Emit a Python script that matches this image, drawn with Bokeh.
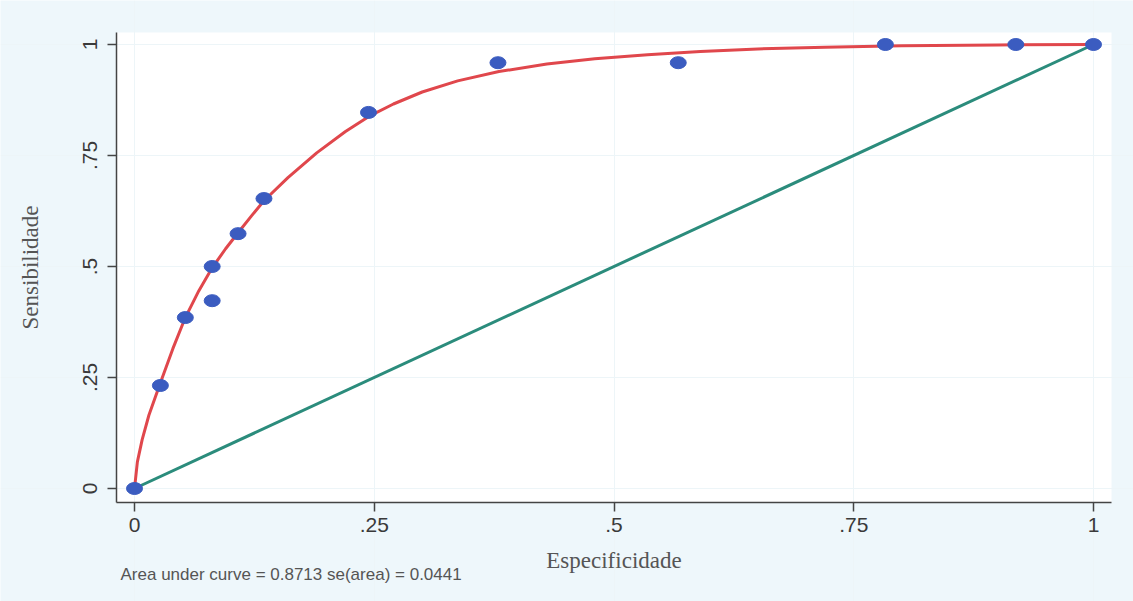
from bokeh.plotting import figure
from bokeh.models import Range1d, FixedTicker, Label, BoxAnnotation
from bokeh.embed import file_html
from bokeh.resources import INLINE

# observed ROC points (1 - specificity, sensitivity)
pt_x = [0.0, 0.027, 0.053, 0.081, 0.081, 0.108, 0.135, 0.244, 0.379, 0.567, 0.783, 0.919, 1.0]
pt_y = [0.0, 0.232, 0.385, 0.423, 0.500, 0.574, 0.653, 0.847, 0.959, 0.959, 1.0, 1.0, 1.0]

# fitted (smooth) ROC curve
fit_x = [0, 0.003, 0.008, 0.015, 0.026, 0.04, 0.053, 0.067, 0.081, 0.095, 0.108, 0.122,
         0.135, 0.16, 0.19, 0.22, 0.246, 0.27, 0.30, 0.337, 0.38, 0.43, 0.48, 0.535,
         0.59, 0.65, 0.72, 0.8, 0.9, 1.0]
fit_y = [0, 0.06, 0.11, 0.165, 0.232, 0.315, 0.385, 0.445, 0.497, 0.54, 0.576, 0.614,
         0.648, 0.700, 0.756, 0.804, 0.840, 0.866, 0.893, 0.918, 0.939, 0.956, 0.968, 0.977,
         0.984, 0.990, 0.994, 0.997, 0.999, 1.0]

# reference (chance) line
ref_x = [0, 1]
ref_y = [0, 1]

tick_vals = [0, 0.25, 0.5, 0.75, 1]
tick_labels = {0: "0", 0.25: ".25", 0.5: ".5", 0.75: ".75", 1: "1"}

x_title = "Especificidade"
y_title = "Sensibilidade"
note = "Area under curve = 0.8713  se(area) = 0.0441"

# plot region (axes extents) and whole-canvas ranges
X_LO, X_HI = -0.0188, 1.0188
Y_LO, Y_HI = -0.0315, 1.027

p = figure(width=1133, height=601, output_backend="svg", toolbar_location=None,
           x_range=Range1d(-0.13973, 1.04171), y_range=Range1d(-0.2545, 1.0991))
p.min_border = 0
p.min_border_left = 0
p.min_border_right = 0
p.min_border_top = 0
p.min_border_bottom = 0
p.border_fill_color = "#eef7fb"
p.background_fill_color = "#eef7fb"
p.outline_line_color = None

p.add_layout(BoxAnnotation(left=X_LO, right=X_HI, bottom=Y_LO, top=Y_HI,
                           fill_color="#ffffff", fill_alpha=1.0, line_color=None,
                           level="image"))

p.xaxis.fixed_location = Y_LO
p.yaxis.fixed_location = X_LO
p.xaxis.bounds = (X_LO, X_HI)
p.yaxis.bounds = (Y_LO, Y_HI)

for ax in (p.xaxis[0], p.yaxis[0]):
    ax.ticker = FixedTicker(ticks=tick_vals)
    ax.major_label_overrides = tick_labels
    ax.minor_tick_line_color = None
    ax.major_tick_out = 9
    ax.major_tick_in = 0
    ax.axis_line_color = "#444444"
    ax.axis_line_width = 1.5
    ax.major_tick_line_color = "#444444"
    ax.major_tick_line_width = 1.5
    ax.major_label_text_font = "Liberation Sans"
    ax.major_label_text_font_size = "21px"
    ax.major_label_text_color = "#3a3a3a"
    ax.axis_label_text_font = "Liberation Serif"
    ax.axis_label_text_font_size = "23px"
    ax.axis_label_text_font_style = "normal"
    ax.axis_label_text_color = "#555555"

p.xaxis.major_label_standoff = 7
p.yaxis.major_label_standoff = 10
p.xaxis.axis_label = x_title
p.yaxis.axis_label = y_title
p.yaxis.major_label_orientation = "vertical"
p.xaxis.axis_label_standoff = 12
p.yaxis.axis_label_standoff = 38

p.xgrid.ticker = FixedTicker(ticks=tick_vals)
p.ygrid.ticker = FixedTicker(ticks=tick_vals)
p.xgrid.bounds = (Y_LO, Y_HI)
p.ygrid.bounds = (X_LO, X_HI)
p.grid.grid_line_color = "#edf5f8"
p.grid.grid_line_width = 1

p.line(ref_x, ref_y, line_color="#2b8c7c", line_width=3)
p.line(fit_x, fit_y, line_color="#e0474c", line_width=3)
p.ellipse(x=pt_x, y=pt_y, width=16, height=12, width_units="screen", height_units="screen",
          fill_color="#3b5cc0", line_color="#3b5cc0")

p.add_layout(Label(x=-0.0146, y=-0.1937, text=note,
                   text_font="Liberation Sans", text_font_size="17px",
                   text_color="#555555", text_baseline="middle"))

open("out.html", "w").write(file_html(p, INLINE))
